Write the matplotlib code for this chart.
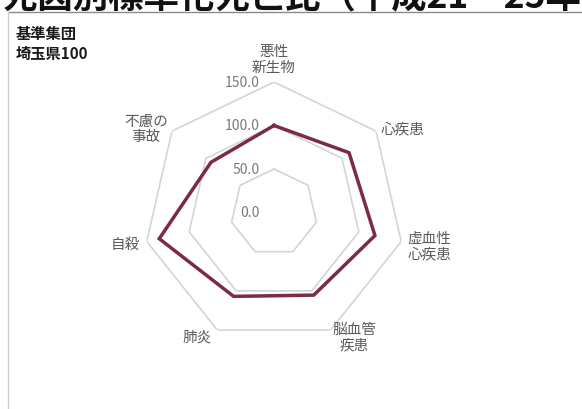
import numpy as np
import matplotlib
matplotlib.use("Agg")
import matplotlib.pyplot as plt
from matplotlib.lines import Line2D

plt.rcParams['font.family'] = ['Noto Sans CJK JP', 'DejaVu Sans']

# Standardized mortality ratio by cause of death (reference population = 100)
categories = ["悪性\n新生物", "心疾患", "虚血性\n心疾患", "脳血管\n疾患", "肺炎", "自殺", "不慮の\n事故"]
smr_values = [100.0, 110.3, 119.0, 105.4, 107.0, 135.3, 92.6]
ring_levels = [50.0, 100.0, 150.0]
tick_labels = ["0.0", "50.0", "100.0", "150.0"]
tick_values = [0.0, 50.0, 100.0, 150.0]

title_text = "死因別標準化死亡比（平成21～25年 男性）"
group_text = "基準集団\n埼玉県100"

W, H = 582, 410
fig = plt.figure(figsize=(W / 100, H / 100), dpi=100)
fig.patch.set_facecolor("white")

# Panel frame
fig.add_artist(Line2D([8 / W, 1.0], [1 - 13 / H, 1 - 13 / H], color="#8a8a8a", lw=1.0))
fig.add_artist(Line2D([8 / W, 8 / W], [0.0, 1 - 13 / H], color="#cfcfcf", lw=1.0))

# Large heading, running off the top edge
fig.text(2 / W, 1 - 8 / H, title_text, fontsize=25.5, fontweight="bold",
         color="#111111", ha="left", va="baseline")

fig.text(16 / W, 1 - 26 / H, group_text, fontsize=11, fontweight="bold",
         color="#1a1a1a", ha="left", va="top", linespacing=1.3)

# Radar axes
cx, cy, R = 274.0, 213.5, 130.5
ax = fig.add_axes([(cx - R) / W, (H - cy - R) / H, 2 * R / W, 2 * R / H], projection="polar")
ax.set_theta_offset(np.pi / 2)
ax.set_theta_direction(-1)
ax.set_ylim(0, 150)
ax.grid(False)
ax.spines["polar"].set_visible(False)
ax.set_xticks([])
ax.set_yticks([])
ax.patch.set_alpha(0)

n = len(categories)
angles = np.linspace(0, 2 * np.pi, n, endpoint=False)
closed = np.concatenate([angles, angles[:1]])

for lvl in ring_levels:
    ax.plot(closed, [lvl] * (n + 1), color="#d4d4d4", lw=1.2, zorder=1)

vals = np.array(smr_values + smr_values[:1])
ax.plot(closed, vals, color="#7b2a4b", lw=2.5, solid_joinstyle="miter", zorder=3)

# Radial value labels
for tv, tl in zip(tick_values, tick_labels):
    ax.annotate(tl, xy=(0, tv), xytext=(-10, 0), textcoords="offset points",
                ha="right", va="center", fontsize=10, color="#7a7a7a", zorder=4)

# Category labels around the outer ring
label_layout = [
    ((0, 16.5), "center"),
    ((3, 2), "left"),
    ((4.5, -3), "left"),
    ((1.5, -5), "left"),
    ((-4, -4.5), "right"),
    ((-5, -2), "right"),
    ((-3, 2), "right"),
]
for ang, cat, (off, ha) in zip(angles, categories, label_layout):
    ax.annotate(cat, xy=(ang, 150), xytext=off, textcoords="offset points",
                ha=ha, va="center", multialignment="center", fontsize=10.5,
                color="#5a5a5a", linespacing=1.15, zorder=4)

fig.savefig("out.png", dpi=100, facecolor="white")
